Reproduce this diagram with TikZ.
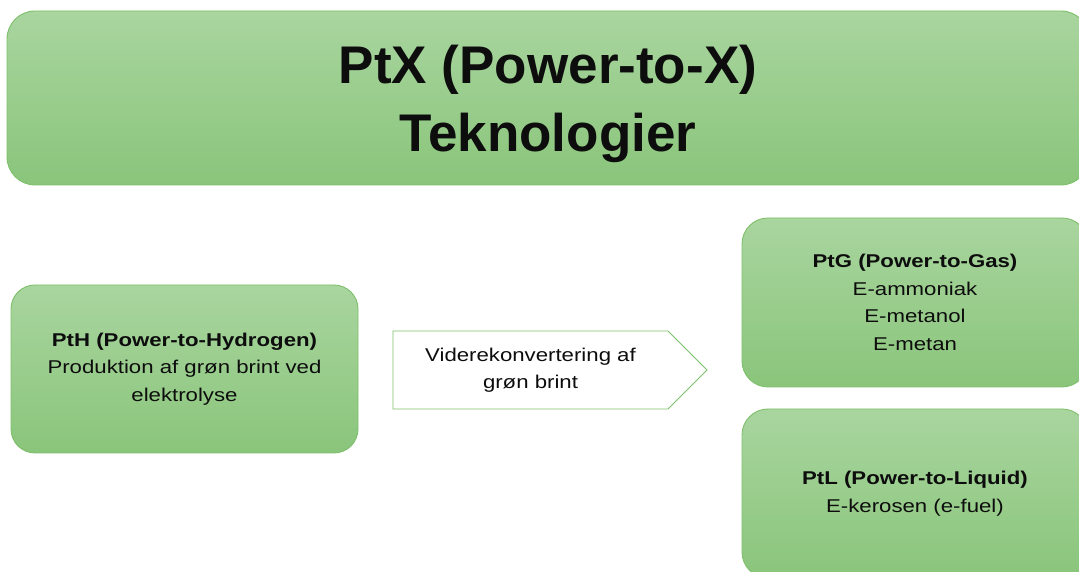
\documentclass[tikz,border=0pt]{standalone}
\usepackage{fontspec}
\setmainfont{Liberation Sans}
\newfontfamily\bodyfont{Liberation Sans}[FakeStretch=1.2]
\usetikzlibrary{shapes.symbols}
\definecolor{boxtop}{HTML}{A9D59F}
\definecolor{boxbottom}{HTML}{8AC57B}
\definecolor{boxline}{HTML}{7DBF6B}
\definecolor{ink}{HTML}{0D0D0D}

\begin{document}
\begin{tikzpicture}[x=1pt,y=1pt,
    greenbox/.style={draw=boxline, line width=0.9pt, top color=boxtop, bottom color=boxbottom,
                     rounded corners=28pt, align=center, inner sep=0pt, text=ink},
    title/.style={font=\fontsize{53}{68}\selectfont\bfseries},
    body/.style={font=\bodyfont\fontsize{18.5}{27.5}\selectfont},
    arrowbox/.style={shape=signal, signal to=east, signal pointer angle=90, draw=boxline,
                     line width=0.9pt, fill=white, align=center, inner sep=0pt, text=ink},
    ]

\useasboundingbox (0,0) rectangle (1079,572);

%% centres of the boxes
\coordinate (ctitle) at (548,474);
\coordinate (cpth) at (184.5,203);
\coordinate (cconv) at (530.5,202);
\coordinate (cptg) at (915,269.5);
\coordinate (cptl) at (915,78.5);

%% header (descender smashed so the two lines sit a bit lower)
\node[greenbox, title, minimum width=1082pt, minimum height=174pt] (ptx) at (ctitle)
  {PtX (Power-to-X)\\\smash{Teknologier}};

%% hydrogen step and conversion arrow
\node[greenbox, body, minimum width=347pt, minimum height=168pt, rounded corners=24pt] (pth) at (cpth)
  {\textbf{PtH (Power-to-Hydrogen)}\\Produktion af grøn brint ved\\elektrolyse};
\node[arrowbox, body, minimum width=314pt, minimum height=78pt] (conv) at (cconv)
  {Viderekonvertering af\\grøn brint};

%% gas and liquid products
\node[greenbox, body, minimum width=346pt, minimum height=169pt, rounded corners=26pt] (ptg) at (cptg)
  {\textbf{PtG (Power-to-Gas)}\\E-ammoniak\\E-metanol\\E-metan};
\node[greenbox, body, minimum width=346pt, minimum height=169pt, rounded corners=26pt] (ptl) at (cptl)
  {\textbf{PtL (Power-to-Liquid)}\\E-kerosen (e-fuel)};

\end{tikzpicture}
\end{document}
